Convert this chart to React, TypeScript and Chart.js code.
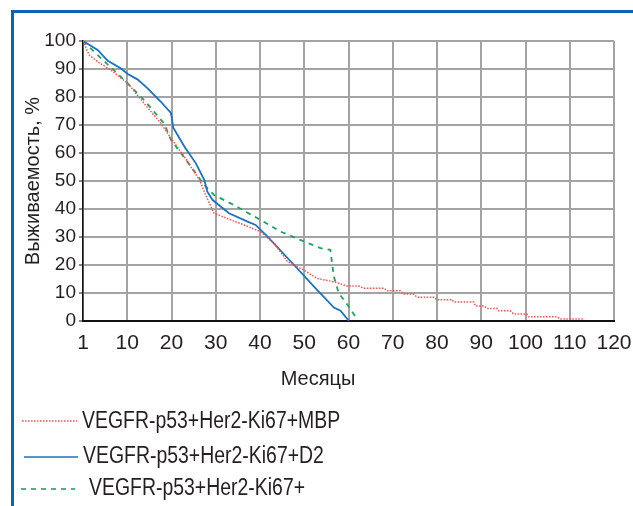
import React, { useEffect, useRef } from "react";
import { Chart, registerables } from "chart.js";

Chart.register(...registerables);

// Tick labels
const xTickValues = [0, 10, 20, 30, 40, 50, 60, 70, 80, 90, 100, 110, 120];
const xTickLabels = ["1", "10", "20", "30", "40", "50", "60", "70", "80", "90", "100", "110", "120"];

// Series: VEGFR-p53+Her2-Ki67+MBP (red dotted)
const mbpMonths = [0, 1.4, 3.3, 6.3, 10.1, 13.8, 17.6, 20.2, 22.9, 26.4, 27.7, 29.6, 33.4, 36.4, 40.1, 43.2, 46.2, 49.9, 52.9, 56.7, 59.7, 62.3, 63.5, 68, 68.8, 71.7, 72.5, 74.7, 75.5, 79.3, 80, 83.4, 83.8, 88.3, 88.7, 90.6, 91.3, 93.6, 93.9, 96.5, 97.3, 100.3, 100.7, 107.1, 107.8, 113.1];
const mbpSurv = [100, 95, 92.6, 89.6, 84.9, 77.7, 70.6, 64.6, 58.7, 50.2, 45, 38.5, 36.1, 34.3, 31.9, 27.8, 21.2, 18.2, 15.2, 14, 12.5, 12.5, 11.7, 11.7, 10.8, 10.8, 9.6, 9.6, 8.5, 8.5, 7.6, 7.6, 6.8, 6.8, 5.4, 5.4, 4.5, 4.5, 3.7, 3.7, 2.5, 2.5, 1.5, 1.5, 0.7, 0.7];

// Series: VEGFR-p53+Her2-Ki67+D2 (blue solid)
const d2Months = [0, 3.3, 5.6, 8.6, 10.1, 12.3, 14.6, 17.6, 19.9, 20.4, 22.9, 25.5, 27.4, 28.1, 29.3, 33, 37.2, 39, 41.7, 47.7, 52.2, 56.7, 58.2, 60.1];
const d2Surv = [100, 96.8, 92.9, 90.2, 88.2, 86.3, 83.1, 78.3, 74.2, 69, 62.3, 56.3, 50.4, 46.2, 43.2, 38.5, 35.5, 34.3, 30.1, 20, 12.3, 4.8, 3.7, 0];

// Series: VEGFR-p53+Her2-Ki67+ (green dashed)
const kiMonths = [0, 4.1, 9.3, 13.8, 18.3, 19.9, 24.4, 27.4, 29.6, 34.1, 40.1, 44.7, 49.2, 53.7, 55.9, 56.7, 57.8, 60.1, 61.8];
const kiSurv = [100, 93.8, 86.1, 78.9, 70.6, 64.6, 55.1, 48.6, 45, 41.4, 36.1, 31.9, 28.9, 26, 25.4, 15.8, 9.9, 5.1, 1];

const seriesNames = ["VEGFR-p53+Her2-Ki67+MBP", "VEGFR-p53+Her2-Ki67+D2", "VEGFR-p53+Her2-Ki67+"];
const seriesColors = ["#ff4d4d", "#1a72c4", "#1fa55a"];

const yTitle = "Выживаемость, %";
const xTitle = "Месяцы";

const toPoints = (xs: number[], ys: number[]) => xs.map((x, i) => ({ x, y: ys[i] }));

export default function App() {
  const ref = useRef<HTMLCanvasElement | null>(null);

  useEffect(() => {
    const canvas = ref.current;
    if (!canvas) return;

    const textPlugin = {
      id: "customTexts",
      afterDraw(chart: any) {
        const ctx = chart.ctx as CanvasRenderingContext2D;
        ctx.save();
        // x axis title
        ctx.fillStyle = "#231f20";
        ctx.font = "20px 'Liberation Sans'";
        ctx.textAlign = "center";
        ctx.textBaseline = "alphabetic";
        ctx.fillText(xTitle, 318, 385);

        // legend
        const items = [
          { y: 421, x1: 22, x2: 77, tx: 82, ty: 428, dash: [1.5, 1.5], w: 1.5 },
          { y: 457, x1: 24, x2: 78, tx: 83, ty: 463, dash: [], w: 1.7 },
          { y: 489, x1: 21, x2: 75, tx: 89, ty: 495, dash: [5, 5], w: 1.6 },
        ];
        items.forEach((it, i) => {
          ctx.beginPath();
          ctx.setLineDash(it.dash);
          ctx.strokeStyle = seriesColors[i];
          ctx.lineWidth = it.w;
          ctx.moveTo(it.x1, it.y);
          ctx.lineTo(it.x2, it.y);
          ctx.stroke();
          ctx.setLineDash([]);
          ctx.fillStyle = "#231f20";
          ctx.textAlign = "left";
          ctx.font = "23px 'Liberation Sans'";
          ctx.save();
          ctx.translate(it.tx, it.ty);
          ctx.scale(0.845, 1);
          ctx.fillText(seriesNames[i], 0, 0);
          ctx.restore();
        });
        ctx.restore();
      },
    };

    const chart = new Chart(canvas, {
      type: "line",
      data: {
        datasets: [
          {
            label: seriesNames[0],
            data: toPoints(mbpMonths, mbpSurv),
            borderColor: seriesColors[0],
            borderWidth: 1.5,
            borderDash: [1.5, 1.5],
            pointRadius: 0,
            tension: 0,
          },
          {
            label: seriesNames[1],
            data: toPoints(d2Months, d2Surv),
            borderColor: seriesColors[1],
            borderWidth: 1.8,
            pointRadius: 0,
            tension: 0,
          },
          {
            label: seriesNames[2],
            data: toPoints(kiMonths, kiSurv),
            borderColor: seriesColors[2],
            borderWidth: 1.8,
            borderDash: [5, 5],
            pointRadius: 0,
            tension: 0,
          },
        ],
      },
      options: {
        animation: false,
        responsive: false,
        events: [],
        layout: { padding: { left: 0, top: 41, right: 19, bottom: 115 } },
        plugins: { legend: { display: false }, tooltip: { enabled: false } },
        scales: {
          x: {
            type: "linear",
            min: 0,
            max: 120,
            afterBuildTicks: (scale: any) => {
              scale.ticks = xTickValues.map((v) => ({ value: v }));
            },
            afterFit: (scale: any) => {
              scale.height = 70;
              scale.paddingLeft = 0;
              scale.paddingRight = 0;
            },
            ticks: {
              autoSkip: false,
              maxRotation: 0,
              padding: 10,
              color: "#231f20",
              font: { family: "'Liberation Sans'", size: 21 },
              callback: (v: any) => xTickLabels[xTickValues.indexOf(Number(v))] ?? "",
            },
            grid: { color: "#a3a3a3", lineWidth: 2, drawTicks: false },
            border: { color: "#111", width: 2 },
          },
          y: {
            type: "linear",
            min: 0,
            max: 100,
            afterFit: (scale: any) => {
              scale.width = 83;
              scale.paddingTop = 0;
              scale.paddingBottom = 0;
            },
            ticks: {
              stepSize: 10,
              padding: 3,
              color: "#231f20",
              font: { family: "'Liberation Sans'", size: 19 },
            },
            grid: { color: "#a3a3a3", lineWidth: 2, tickLength: 4, tickColor: "#111", tickWidth: 1 },
            border: { color: "#111", width: 1.5 },
            title: {
              display: true,
              text: yTitle,
              color: "#231f20",
              font: { family: "'Liberation Sans'", size: 20 },
              padding: { top: 21, bottom: 0 },
            },
          },
        },
      },
      plugins: [textPlugin],
    });

    return () => chart.destroy();
  }, []);

  return (
    <div style={{ position: "absolute", left: 0, top: 0, width: 633, height: 506, background: "#fff", overflow: "hidden" }}>
      <div
        style={{
          position: "absolute",
          left: 11,
          top: 10,
          right: 0,
          bottom: 0,
          borderTop: "3px solid #0f62b8",
          borderLeft: "3px solid #0f62b8",
        }}
      />
      <canvas ref={ref} width={633} height={506} style={{ position: "absolute", left: 0, top: 0, display: "block" }} />
    </div>
  );
}
